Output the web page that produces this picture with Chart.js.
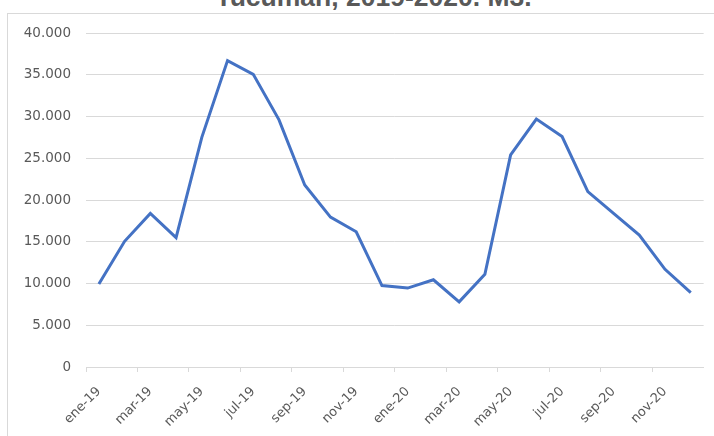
<!DOCTYPE html>
<html>
<head>
<meta charset="utf-8">
<script src="https://cdn.jsdelivr.net/npm/chart.js@4/dist/chart.umd.min.js"></script>
<style>
    html, body { margin: 0; padding: 0; background: #fff; overflow: hidden; }
    #wrap { position: relative; width: 714px; height: 436px; overflow: hidden; }
    #frame { position: absolute; left: 7px; top: 13px; width: 800px; height: 500px; border: 1px solid #d9d9d9; }
    #title {
        position: absolute; left: 0; top: -16px; width: 747px; text-align: center;
        font: bold 26.5px "Liberation Sans", Arial, sans-serif; line-height: 1; color: #595959; white-space: nowrap;
    }
    canvas { position: absolute; left: 0; top: 0; }
</style>
</head>
<body>
<div id="wrap">
    <div id="frame"></div>
    <div id="title">Tucumán, 2019-2020. M3.</div>
    <canvas id="chart" width="714" height="436"></canvas>
</div>
<script>
// meses (eje X)
const months = [
    'ene-19', 'feb-19', 'mar-19', 'abr-19', 'may-19', 'jun-19',
    'jul-19', 'ago-19', 'sep-19', 'oct-19', 'nov-19', 'dic-19',
    'ene-20', 'feb-20', 'mar-20', 'abr-20', 'may-20', 'jun-20',
    'jul-20', 'ago-20', 'sep-20', 'oct-20', 'nov-20', 'dic-20'
];

// volumen mensual en m3
const volumes = [
    9950, 15050, 18400, 15500, 27500, 36700,
    35050, 29600, 21800, 17950, 16200, 9750,
    9450, 10450, 7800, 11100, 25400, 29700,
    27600, 21000, 18400, 15800, 11700, 8900
];

// eje Y
const yMin = 0;
const yMax = 40000;
const yStep = 5000;

const labelColor = '#595959';
const gridColor = '#d9d9d9';

function fmtMiles(v) {
    return String(v).replace(/\B(?=(\d{3})+(?!\d))/g, '.');
}

new Chart(document.getElementById('chart'), {
    type: 'line',
    data: {
        labels: months,
        datasets: [{
            data: volumes,
            borderColor: '#4472C4',
            borderWidth: 3,
            pointRadius: 0,
            tension: 0,
            fill: false
        }]
    },
    options: {
        responsive: false,
        animation: false,
        layout: { padding: { left: 0, top: 33, right: 10, bottom: 0 } },
        plugins: {
            legend: { display: false },
            tooltip: { enabled: false }
        },
        scales: {
            x: {
                offset: true,
                afterFit: s => { s.height = 69; },
                grid: {
                    offset: true,
                    drawOnChartArea: false,
                    drawTicks: true,
                    tickLength: 5,
                    color: ctx => (ctx.index % 2 === 0 ? gridColor : 'rgba(0,0,0,0)')
                },
                border: { display: true, color: gridColor },
                ticks: {
                    autoSkip: false,
                    maxRotation: 45,
                    minRotation: 45,
                    padding: 12,
                    color: labelColor,
                    font: { family: 'DejaVu Sans', size: 13 },
                    callback: function (v, i) { return i % 2 === 0 ? this.getLabelForValue(v) : ''; }
                }
            },
            y: {
                min: yMin,
                max: yMax,
                afterFit: s => { s.width = 86; },
                grid: { color: gridColor, drawTicks: false },
                border: { display: false },
                ticks: {
                    stepSize: yStep,
                    padding: 15,
                    color: labelColor,
                    font: { family: 'DejaVu Sans', size: 13.5 },
                    callback: v => fmtMiles(v)
                }
            }
        }
    }
});
</script>
</body>
</html>
